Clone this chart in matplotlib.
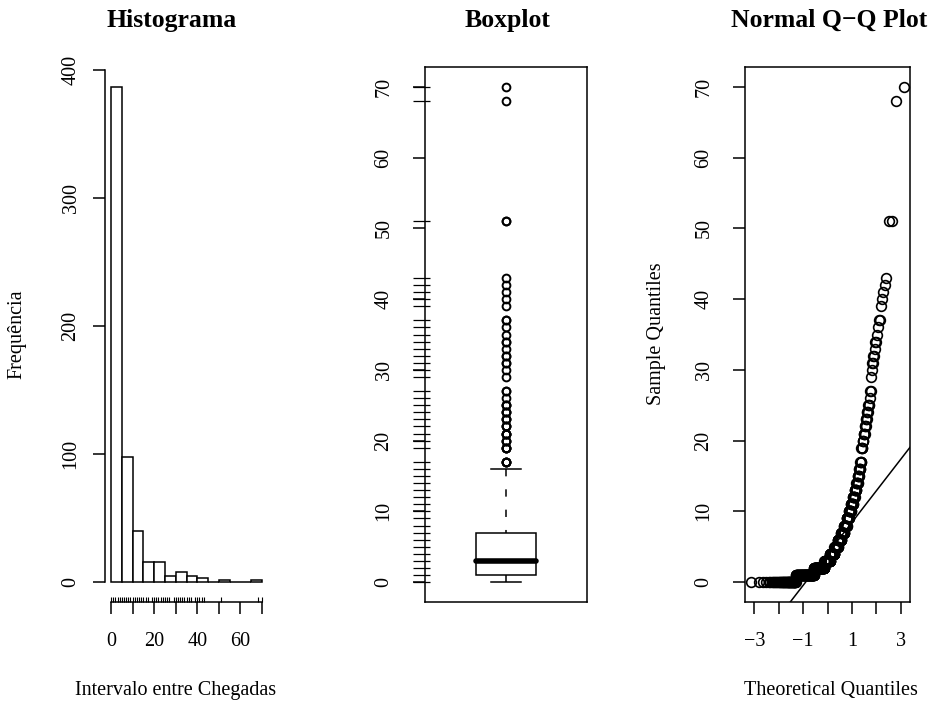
import numpy as np
import matplotlib
matplotlib.use("Agg")
import matplotlib.pyplot as plt
from matplotlib.patches import Rectangle
from statistics import NormalDist

# Inter-arrival intervals: distinct values and how many times each occurs
interval_values = [0, 1, 2, 3, 4, 5, 6, 7, 8, 9, 10, 11, 12, 13, 14, 15, 16, 17,
                   19, 20, 21, 22, 23, 24, 25, 26, 27,
                   29, 30, 31, 32, 33, 34, 35, 36, 37,
                   39, 40, 41, 42, 43, 51, 68, 70]
interval_counts = [56, 113, 92, 55, 40, 31, 27, 24, 19, 15, 13, 11, 9, 8, 7, 5, 5, 4,
                   4, 3, 4, 3, 3, 3, 3, 1, 2,
                   1, 1, 2, 2, 1, 2, 1, 1, 2,
                   1, 1, 1, 1, 1, 2, 1, 1]

hist_breaks = [0, 5, 10, 15, 20, 25, 30, 35, 40, 45, 50, 55, 60, 65, 70]
hist_xticks = [0, 10, 20, 30, 40, 50, 60, 70]
hist_xticklabels = ["0", "", "20", "", "40", "", "60", ""]
hist_yticks = [0, 100, 200, 300, 400]
value_yticks = [0, 10, 20, 30, 40, 50, 60, 70]
qq_xticks = [-3, -2, -1, 0, 1, 2, 3]
qq_xticklabels = ["\u22123", "", "\u22121", "", "1", "", "3"]

titles = ["Histograma", "Boxplot", "Normal Q\u2212Q Plot"]
hist_xlabel = "Intervalo entre Chegadas"
hist_ylabel = "Frequência"
qq_xlabel = "Theoretical Quantiles"
qq_ylabel = "Sample Quantiles"

plt.rcParams['font.family'] = ['Liberation Serif', 'DejaVu Serif']
TICK_FS = 14.5
TITLE_FS = 18.5
LW = 1.1

W, H = 933, 708
fig = plt.figure(figsize=(W / 100, H / 100), dpi=100)
TOP, BOT = 67, 602


def panel(left, right):
    return fig.add_axes([left / W, 1 - BOT / H, (right - left) / W, (BOT - TOP) / H])


def padded(lo, hi):
    pad = 0.04 * (hi - lo)
    return lo - pad, hi + pad


def style_axis(ax, ypad=11):
    for s in ax.spines.values():
        s.set_linewidth(LW)
    ax.tick_params(direction='out', length=8.6, width=LW, labelsize=TICK_FS)
    ax.tick_params(axis='x', pad=13)
    ax.tick_params(axis='y', labelrotation=90, pad=ypad)
    for lab in ax.get_yticklabels():
        lab.set_verticalalignment('center')


def ftext(x, y, s, **kw):
    fig.text(x / W, 1 - y / H, s, ha='center', va='center', **kw)


x = np.sort(np.repeat(np.array(interval_values, dtype=float), interval_counts))
n = len(x)
uniq = np.unique(x)

# ---- Histogram (right-closed bins, lowest included) ----
ax1 = panel(105, 268)
breaks = np.array(hist_breaks, dtype=float)
idx = np.clip(np.searchsorted(breaks, x, side='left') - 1, 0, len(breaks) - 2)
freq = np.bincount(idx, minlength=len(breaks) - 1)
ax1.bar(breaks[:-1], freq, width=np.diff(breaks), align='edge',
        facecolor='white', edgecolor='black', linewidth=LW)
ax1.set_xlim(*padded(breaks[0], breaks[-1]))
ax1.set_ylim(*padded(0, freq.max()))
ax1.spines['top'].set_visible(False)
ax1.spines['right'].set_visible(False)
ax1.spines['left'].set_bounds(hist_yticks[0], hist_yticks[-1])
ax1.spines['bottom'].set_bounds(hist_xticks[0], hist_xticks[-1])
ax1.set_xticks(hist_xticks)
ax1.set_xticklabels(hist_xticklabels)
ax1.set_yticks(hist_yticks)
style_axis(ax1, ypad=9)
ax1.vlines(uniq, 0, 5.5 / (BOT - TOP), transform=ax1.get_xaxis_transform(),
           color='black', linewidth=0.8, clip_on=False)

# ---- Boxplot (Tukey hinges) ----
ax2 = panel(425, 587)
n4 = np.floor((n + 3) / 2) / 2
d = np.array([1, n4, (n + 1) / 2, n + 1 - n4, n]) - 1
five = 0.5 * (x[np.floor(d).astype(int)] + x[np.ceil(d).astype(int)])
lo_h, med, hi_h = five[1], five[2], five[3]
iqr = hi_h - lo_h
inside = x[(x >= lo_h - 1.5 * iqr) & (x <= hi_h + 1.5 * iqr)]
w_lo, w_hi = inside.min(), inside.max()
outliers = x[(x < w_lo) | (x > w_hi)]
half_box, half_cap = 0.185, 0.095
ax2.add_patch(Rectangle((1 - half_box, lo_h), 2 * half_box, iqr,
                        facecolor='white', edgecolor='black', linewidth=LW, zorder=2))
ax2.plot([1 - half_box, 1 + half_box], [med, med], color='black', lw=4.0,
         solid_capstyle='round', zorder=3)
ax2.plot([1, 1], [w_hi, hi_h], color='black', lw=LW, linestyle=(0, (4.8, 8.5)))
ax2.plot([1, 1], [w_lo, lo_h], color='black', lw=LW, linestyle=(0, (4.8, 8.5)))
ax2.plot([1 - half_cap, 1 + half_cap], [w_hi, w_hi], color='black', lw=LW)
ax2.plot([1 - half_cap, 1 + half_cap], [w_lo, w_lo], color='black', lw=LW)
ax2.plot(np.ones_like(outliers), outliers, 'o', mfc='none', mec='black',
         ms=5.6, mew=1.4)
ax2.set_xlim(0.5, 1.5)
ax2.set_ylim(*padded(x.min(), x.max()))
ax2.set_xticks([])
ax2.set_yticks(value_yticks)
style_axis(ax2, ypad=14)
ax2.hlines(uniq, -12 / 162, 5 / 162, transform=ax2.get_yaxis_transform(),
           color='black', linewidth=0.9, clip_on=False)

# ---- Normal Q-Q plot ----
ax3 = panel(745, 910)
nd = NormalDist()
probs = (np.arange(1, n + 1) - 0.5) / n
theo = np.array([nd.inv_cdf(p) for p in probs])
ax3.plot(theo, x, 'o', mfc='none', mec='black', ms=7.0, mew=1.2)
q1, q3 = np.quantile(x, [0.25, 0.75])
z1, z3 = nd.inv_cdf(0.25), nd.inv_cdf(0.75)
slope = (q3 - q1) / (z3 - z1)
ax3.axline((z1, q1), slope=slope, color='black', lw=LW)
ax3.set_xlim(*padded(theo.min(), theo.max()))
ax3.set_ylim(*padded(x.min(), x.max()))
ax3.set_xticks(qq_xticks)
ax3.set_xticklabels(qq_xticklabels)
ax3.set_yticks(value_yticks)
style_axis(ax3, ypad=14)

# ---- Titles and axis labels ----
ftext(172, 20, titles[0], fontsize=TITLE_FS, fontweight='bold')
ftext(508, 20, titles[1], fontsize=TITLE_FS, fontweight='bold')
ftext(829, 20, titles[2], fontsize=TITLE_FS, fontweight='bold')
ftext(176, 690, hist_xlabel, fontsize=TICK_FS)
ftext(831, 690, qq_xlabel, fontsize=TICK_FS)
ftext(17, 334, hist_ylabel, fontsize=TICK_FS, rotation=90)
ftext(657, 334, qq_ylabel, fontsize=TICK_FS, rotation=90)

fig.savefig("out.png", dpi=100)
